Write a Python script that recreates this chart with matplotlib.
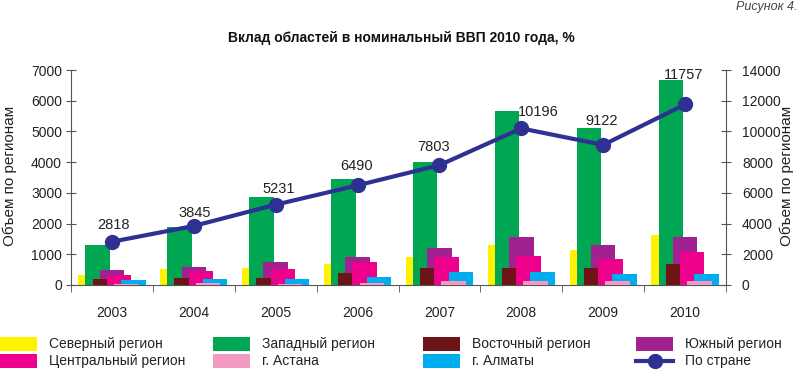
import numpy as np
import matplotlib
matplotlib.use("Agg")
import matplotlib.pyplot as plt
from matplotlib.patches import Rectangle
from matplotlib.lines import Line2D

plt.rcParams['font.family'] = ['Liberation Sans', 'DejaVu Sans']

years = ['2003', '2004', '2005', '2006', '2007', '2008', '2009', '2010']
north = [320, 530, 565, 695, 900, 1300, 1140, 1630]
west = [1300, 1895, 2850, 3450, 4010, 5665, 5100, 6675]
east = [205, 220, 217, 400, 545, 545, 543, 673]
south = [480, 586, 760, 922, 1195, 1550, 1300, 1573]
central = [325, 456, 531, 750, 900, 955, 837, 1065]
astana = [45, 55, 45, 75, 120, 130, 140, 140]
almaty = [150, 205, 205, 270, 435, 435, 358, 350]
country = [2818, 3845, 5231, 6490, 7803, 10196, 9122, 11757]

names = ['Северный регион', 'Западный регион', 'Восточный регион', 'Южный регион',
         'Центральный регион', 'г. Астана', 'г. Алматы']
line_name = 'По стране'

series = [north, west, east, south, central, astana, almaty]
colors = ['#FFF200', '#00A651', '#6D1416', '#A0218F', '#EC008C', '#F49AC1', '#00AEEF']
zorders = [2, 3, 5, 4, 6, 8, 7]
line_color = '#2E3192'

# label nudges (points) for data labels
lab_dx = [1, 1, 2, -1, -4, 12, -1, -1]
lab_dy = [12, 9, 11, 14, 13, 12, 17, 21]

W, H = 800, 370
fig = plt.figure(figsize=(8, 3.7), dpi=100)
ax = fig.add_axes([71 / W, 85 / H, 655 / W, 215 / H])
ax2 = ax.twinx()

x = np.arange(len(years))
step = 0.087
width = 0.30
for k, (vals, c, z) in enumerate(zip(series, colors, zorders)):
    ax.bar(x + (k - 3) * step, vals, width=width, color=c, zorder=z, linewidth=0)

ax.set_xlim(-0.5, len(years) - 0.5)
ax.set_ylim(0, 7000)
ax2.set_ylim(0, 14000)

ax2.plot(x, country, color=line_color, lw=3, marker='o', ms=10, zorder=10)
for i, v in enumerate(country):
    ax2.annotate(str(v), (x[i], v), xytext=(lab_dx[i], lab_dy[i]), textcoords='offset points',
                 ha='center', va='center', fontsize=10.5, color='#222222')

spc = '#555555'
for a in (ax, ax2):
    a.spines['top'].set_visible(False)
ax.spines['right'].set_visible(False)
ax2.spines['left'].set_visible(False)
ax2.spines['bottom'].set_visible(False)
for s in ('left', 'bottom'):
    ax.spines[s].set_color(spc)
ax2.spines['right'].set_color(spc)

ax.set_yticks(np.arange(0, 7001, 1000))
ax2.set_yticks(np.arange(0, 14001, 2000))
ax.tick_params(axis='y', direction='inout', length=7, color=spc, labelsize=10, pad=3, labelcolor='#222222')
ax2.tick_params(axis='y', direction='inout', length=7, color=spc, labelsize=10, pad=8, labelcolor='#222222')

ax.set_xticks(x)
ax.set_xticklabels(years)
ax.set_xticks(np.arange(-0.5, len(years), 1.0), minor=True)
ax.tick_params(axis='x', which='major', length=0, pad=15, labelsize=10, labelcolor='#222222')
ax.tick_params(axis='x', which='minor', direction='out', length=5, color=spc)

fig.text(10 / W, 1 - 176 / H, 'Объем по регионам', rotation=90, ha='center', va='center', fontsize=11, color='#222222')
fig.text(787 / W, 1 - 176 / H, 'Объем по регионам', rotation=90, ha='center', va='center', fontsize=11, color='#222222')

fig.text(401 / W, 1 - 38 / H, 'Вклад областей в номинальный ВВП 2010 года, %', ha='center', va='center',
         fontsize=10, fontweight='bold', color='#111111')
fig.text(797 / W, 1 - 7 / H, 'Рисунок 4.', ha='right', va='center', fontsize=9, style='italic', color='#444444')

# legend (manual, 4 columns x 2 rows)
col_x = [0, 213, 423, 636]
row_y = [344, 361]
entries = names + [line_name]
for idx, lab in enumerate(entries):
    r, cidx = divmod(idx, 4)
    px, py = col_x[cidx], row_y[r]
    if idx < len(names):
        fig.add_artist(Rectangle((px / W, 1 - (py + 7) / H), 37 / W, 14 / H,
                                 transform=fig.transFigure, color=colors[idx], lw=0))
    else:
        fig.add_artist(Line2D([px / W, (px + 37) / W], [1 - py / H, 1 - py / H], transform=fig.transFigure,
                              color=line_color, lw=3))
        fig.add_artist(Line2D([(px + 18.5) / W], [1 - py / H], transform=fig.transFigure,
                              color=line_color, marker='o', ms=10))
    fig.text((px + 49) / W, 1 - py / H, lab, ha='left', va='center', fontsize=10, color='#222222')

fig.savefig('out.png', dpi=100)
